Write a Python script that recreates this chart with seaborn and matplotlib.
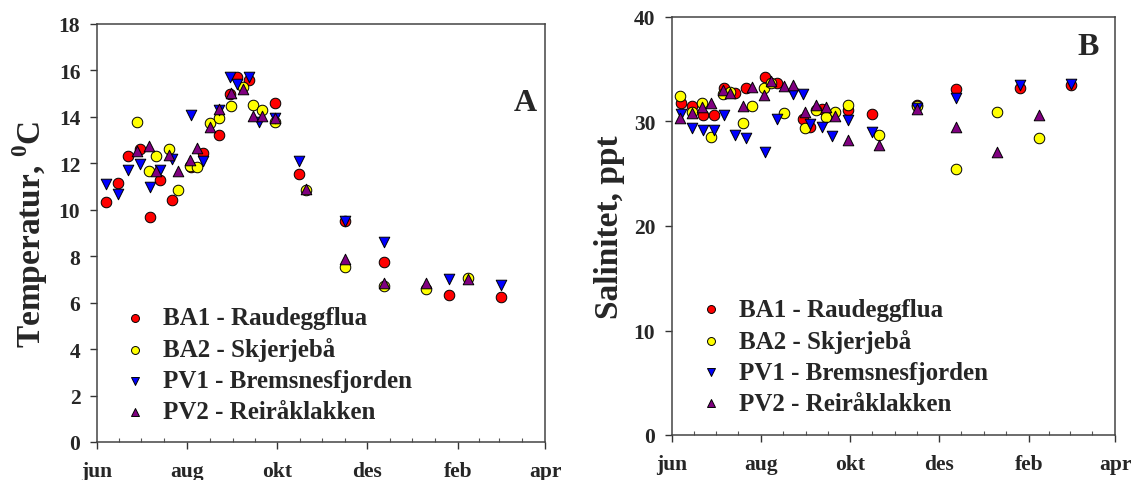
import numpy as np
import pandas as pd
import matplotlib
matplotlib.use("Agg")
import matplotlib.pyplot as plt
import seaborn as sns

nan = np.nan

# days after 1 June
days_ba1_pv1 = [6, 14, 21, 29, 36, 43, 51, 64, 72, 83, 90, 95, 103, 110, 121, 137, 168, 195, 239, 274]
days_ba2_pv2 = [5.5, 13.5, 20.5, 27, 35, 40, 49, 55, 63, 68, 77, 83, 91, 99, 106, 112, 121, 142, 168, 195, 223, 252]

temp_ba1 = [10.35, 11.15, 12.3, 12.6, 9.7, 11.3, 10.4, 11.85, 12.45, 13.2, 15.0, 15.7, 15.6, nan, 14.6, 11.55, 9.5, 7.75, 6.35, 6.25]
temp_pv1 = [11.1, 10.7, 11.7, 11.95, 11.0, 11.7, 12.2, 14.1, 12.1, 14.3, 15.7, 15.4, 15.7, 13.8, 13.95, 12.1, 9.5, 8.6, 7.0, 6.75]
temp_ba2 = [nan, nan, nan, 13.8, 11.65, 12.3, 12.6, 10.85, 11.9, 11.85, 13.75, 13.95, 14.45, 15.3, 14.5, 14.3, 13.8, 10.85, 7.55, 6.7, 6.6, 7.05]
temp_pv2 = [nan, nan, nan, 12.55, 12.75, 11.65, 12.35, 11.65, 12.15, 12.65, 13.55, 14.35, 15.05, 15.2, 14.05, 14.05, 13.95, 10.9, 7.9, 6.85, 6.85, 7.0]

sal_ba1 = [31.75, 31.5, 30.6, 30.65, 33.2, 32.7, 33.25, 34.3, 33.65, nan, 30.25, 29.45, 31.2, nan, 31.1, 30.7, 31.6, 33.1, 33.25, 33.5]
sal_pv1 = [30.7, 29.4, 29.2, 29.2, 30.65, 28.7, 28.4, 27.1, 30.2, 32.6, 32.6, 29.8, 29.5, 28.6, 30.1, 29.0, 31.3, 32.25, 33.5, 33.6]
sal_ba2 = [32.4, 30.95, 31.75, 28.5, 32.6, 32.8, 29.9, 31.45, 33.2, 33.65, 30.8, nan, 29.35, 31.1, 30.4, 30.95, 31.6, 28.75, 31.5, 25.5, 30.9, 28.4]
sal_pv2 = [30.3, 30.8, 31.4, 31.8, 33.0, 32.7, 31.45, 33.3, 32.5, 33.9, 33.4, 33.5, 30.9, 31.6, 31.4, 30.5, 28.2, 27.75, 31.2, 29.5, 27.05, 30.6]

stations = ["BA1 - Raudeggflua", "BA2 - Skjerjebå", "PV1 - Bremsnesfjorden", "PV2 - Reiråklakken"]
month_pos = [0, 61, 122, 183, 245, 304]
month_lab = ["jun", "aug", "okt", "des", "feb", "apr"]

sns.set_theme(style="white")
plt.rcParams['font.family'] = ['Liberation Serif', 'DejaVu Serif']
plt.rcParams['font.weight'] = 'bold'
plt.rcParams['mathtext.fontset'] = 'custom'
plt.rcParams['mathtext.rm'] = 'Liberation Serif:bold'
plt.rcParams['mathtext.bf'] = 'Liberation Serif:bold'

colors = ["red", "yellow", "blue", "purple"]
markers = ["o", "o", "v", "^"]

fig = plt.figure(figsize=(11.31, 4.81), dpi=100)
axA = fig.add_axes([97/1131, 38/481, 448/1131, 418/481])
axB = fig.add_axes([672/1131, 45/481, 443/1131, 418/481])


def panel(ax, series, ylim, yticks, ylabel, letter, letter_pos, leg_anchor):
    for (d, v), name, c, m in zip(series, stations, colors, markers):
        df = pd.DataFrame({"day": d, "val": v}).dropna()
        sns.scatterplot(data=df, x="day", y="val", ax=ax, color=c, marker=m,
                        s=58, edgecolor="black", linewidth=0.7, label=name, zorder=3)
    ax.set_xlim(0, 304)
    ax.set_ylim(*ylim)
    ax.set_xticks(month_pos)
    ax.set_xticklabels(month_lab)
    months = [0, 30, 61, 92, 122, 153, 183, 214, 245, 273, 304]
    minor = [(a + b) / 2 for a, b in zip(months[:-1], months[1:])] + months
    ax.set_xticks(sorted(set(minor) - set(month_pos)), minor=True)
    ax.set_yticks(yticks)
    ax.tick_params(axis="both", which="major", direction="out", length=5, width=1,
                   color="#333333", labelsize=15.5, pad=7, bottom=True, left=True)
    ax.tick_params(axis="x", which="major", pad=9)
    ax.tick_params(axis="x", which="minor", direction="in", length=3, width=0.8,
                   color="#555555", bottom=True)
    for lab in ax.get_xticklabels() + ax.get_yticklabels():
        lab.set_fontweight("bold")
    for sp in ax.spines.values():
        sp.set_color("#444444")
        sp.set_linewidth(1.1)
    ax.set_xlabel("")
    ax.set_ylabel(ylabel, fontsize=24, fontweight="bold", labelpad=6)
    ax.text(letter_pos[0], letter_pos[1], letter, transform=ax.transAxes, fontsize=23,
            fontweight="bold", ha="center", va="center")
    ax.legend(loc="lower left", bbox_to_anchor=leg_anchor, frameon=False,
              prop={"size": 18, "weight": "bold"}, markerscale=0.75,
              handlelength=1.0, handletextpad=0.6, labelspacing=0.32,
              borderpad=0, borderaxespad=0)


panel(axA,
      [(days_ba1_pv1, temp_ba1), (days_ba2_pv2, temp_ba2), (days_ba1_pv1, temp_pv1), (days_ba2_pv2, temp_pv2)],
      (0, 18), range(0, 19, 2), r"Temperatur, $^{0}$C", "A", (0.955, 0.813), (0.057, 0.045))
panel(axB,
      [(days_ba1_pv1, sal_ba1), (days_ba2_pv2, sal_ba2), (days_ba1_pv1, sal_pv1), (days_ba2_pv2, sal_pv2)],
      (0, 40), range(0, 41, 10), "Salinitet, ppt", "B", (0.939, 0.93), (0.06, 0.048))

fig.savefig("out.png", dpi=100)
